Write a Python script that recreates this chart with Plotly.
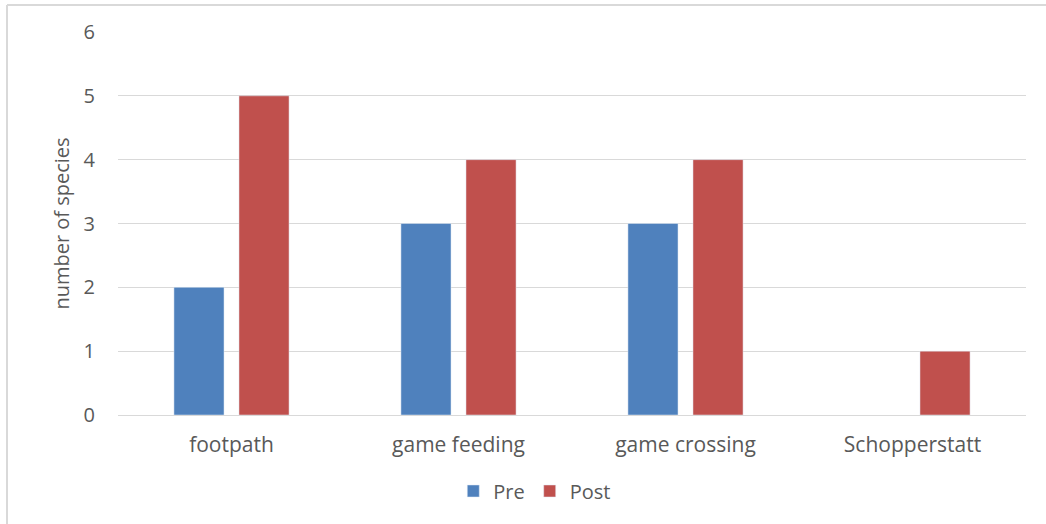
import plotly.graph_objects as go

categories = ["footpath", "game feeding", "game crossing", "Schopperstatt"]
pre_values = [2, 3, 3, None]
post_values = [5, 4, 4, 1]
y_ticks = [0, 1, 2, 3, 4, 5, 6]

W, H = 1046, 524
L, R, T, B = 118, 20, 32, 109
pw, ph = W - L - R, H - T - B

font_family = "Open Sans, Lato, sans-serif"
text_color = "#595959"

fig = go.Figure()
fig.add_trace(go.Bar(name="Pre", x=categories, y=pre_values, marker_color="#4F81BD"))
fig.add_trace(go.Bar(name="Post", x=categories, y=post_values, marker_color="#C0504D"))

# outer frame lines (left and top edges of the chart area)
fx0 = (7 - L) / pw
fy0 = (H - 5 - B) / ph
fig.add_shape(type="line", xref="paper", yref="paper", x0=fx0, x1=(W - L) / pw + 0.01,
              y0=fy0, y1=fy0, line=dict(color="#D9D9D9", width=2))
fig.add_shape(type="line", xref="paper", yref="paper", x0=fx0, x1=fx0,
              y0=fy0, y1=-B / ph - 0.05, line=dict(color="#D9D9D9", width=2))

fig.update_layout(
    width=W, height=H,
    margin=dict(l=L, r=R, t=T, b=B),
    plot_bgcolor="white", paper_bgcolor="white",
    barmode="group", bargap=0.427, bargroupgap=0.23,
    font=dict(family=font_family, color=text_color, size=20),
    showlegend=True,
    legend=dict(orientation="h", x=0.459, xanchor="center",
                yref="container", y=0.063, yanchor="middle",
                font=dict(size=20, color=text_color), itemwidth=30, traceorder="normal"),
    xaxis=dict(showgrid=False, showline=True, linecolor="#D9D9D9", linewidth=1,
               tickfont=dict(size=21, color=text_color), ticks="", ticklabelstandoff=11),
    yaxis=dict(range=[0, 6], tickvals=y_ticks, showgrid=True, gridcolor="#D9D9D9",
               gridwidth=1, zeroline=False, showline=False,
               tickfont=dict(size=20, color=text_color), ticks="", ticklabelstandoff=22,
               title=dict(text="number of species", font=dict(size=20, color=text_color),
                          standoff=8)),
)

fig.write_html("out.html")
